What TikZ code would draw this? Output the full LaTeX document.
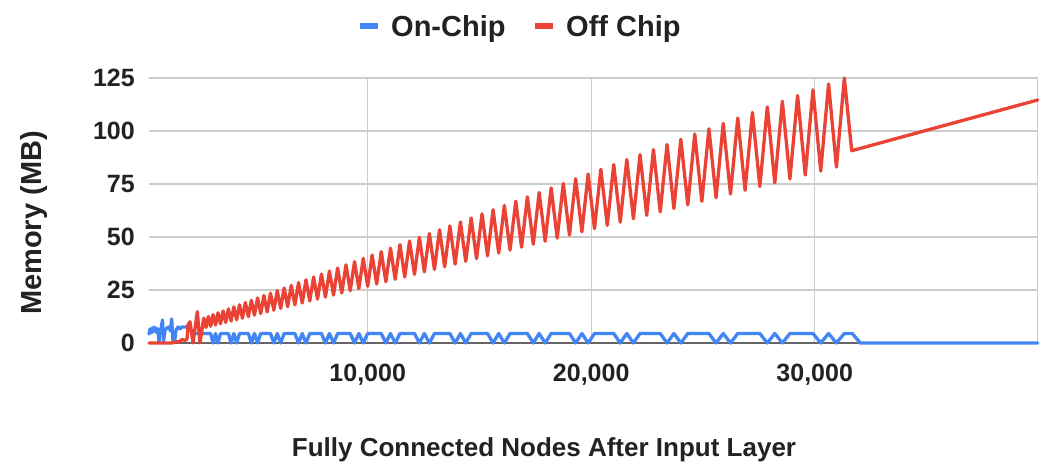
\documentclass[tikz,border=0pt]{standalone}
\usepackage{fontspec}
\setmainfont{Liberation Sans}
\definecolor{gblue}{HTML}{4285F4}
\definecolor{gred}{HTML}{EA4335}
\definecolor{gridc}{HTML}{CCCCCC}
\definecolor{axisc}{HTML}{666666}
\definecolor{txt}{HTML}{222222}
\begin{document}
\begin{tikzpicture}[x=1pt,y=-1pt,
  declare function={px(\t)=148.2+0.0903*(\t+46.8)^2; pk(\u)=343-0.3748*(\u-137.4); tr(\u)=343-0.2544*(\u-145);},
  gridline/.style={draw=gridc,line width=1.2pt},
  axisline/.style={draw=axisc,line width=2pt},
  series/.style={line width=3.3pt,line join=round,line cap=round},
  ticklab/.style={font=\fontsize{25}{25}\selectfont\bfseries,text=txt,inner sep=0pt},
  legendlab/.style={font=\fontsize{29}{29}\selectfont\bfseries,text=txt,inner sep=0pt},
  titlelab/.style={font=\fontsize{26}{26}\selectfont\bfseries,text=txt,inner sep=0pt},
  swatch/.style={minimum width=18pt,minimum height=6pt,inner sep=0pt}
]
\useasboundingbox[fill=white] (0,0) rectangle (1046,468);

% grid
\foreach \yy in {78,131,184,237,290}
  \draw[gridline] (149,\yy) -- (1037.7,\yy);
\foreach \xx in {367.7,591.2,814.7,1037.7}
  \draw[gridline] (\xx,78) -- (\xx,343);
\draw[axisline] (149,343) -- (1037.7,343);

% On-Chip series
\draw[series,gblue] (149,334) -- (150,329) -- (151,333) -- (152,328) -- (153,332) -- (154,327) -- (155,331) -- (156,328) -- (157,333) -- (158,329) -- (159,342) -- (160,330) -- (161,329) -- (162.5,320) -- (163.5,342) -- (165,330) -- (167,328) -- (169,327) -- (170.5,331) -- (171.7,319) -- (173,342) -- (174.5,342) -- (176,330) -- (178,327) -- (180,329) -- (182,327) -- (185,327) -- (188,327) -- (190,328) -- (192,333.5)
  \foreach \m in {-6,...,11} {
    -- ({px(0.5+3.5*\m)},333.5) -- ({px(1+3.5*\m)},343) -- ({px(1.5+3.5*\m)},333.5) -- ({px(2+3.5*\m)},343) -- ({px(2.5+3.5*\m)},333.5)
  }
  -- ({px(41.5)},333.5) -- ({px(42)},343) -- (1037.7,343);

% Off Chip series
\draw[series,gred] (149,343) -- (172,343) -- (176,341.5) -- (179,342) -- (182,339.5) -- (185,340.5) -- (187,339) -- (188,325) -- (190,321.7) -- (193,343) -- (197.3,311.7) -- (200,343)
  \foreach \j in {-22,...,40} {
    -- ({px(\j)},{pk(px(\j))}) -- ({px(\j+0.5)},{tr(px(\j+0.5))})
  }
  -- ({px(41)},{pk(px(41))}) -- (851.7,150.7) -- (1037.7,100);

% y ticks
\foreach \v/\yy in {0/343,25/290,50/237,75/184,100/131,125/78}
  \node[ticklab,anchor=east] (yt\v) at (135,\yy) {\v};
% x ticks
\node[ticklab,anchor=base] (xt1) at (367.7,381) {10,000};
\node[ticklab,anchor=base] (xt2) at (591.2,381) {20,000};
\node[ticklab,anchor=base] (xt3) at (814.7,381) {30,000};

% axis titles
\node[titlelab,anchor=base] (xtitle) at (544,456) {Fully Connected Nodes After Input Layer};
\node[legendlab,rotate=90,anchor=base] (ytitle) at (41,223) {Memory (MB)};

% legend
\node[swatch,fill=gblue] (sw1) at (369.2,26.3) {};
\node[legendlab,anchor=base west] (lg1) at (391,36.5) {On-Chip};
\node[swatch,fill=gred] (sw2) at (544.2,26.3) {};
\node[legendlab,anchor=base west] (lg2) at (566,36.5) {Off Chip};
\end{tikzpicture}
\end{document}
